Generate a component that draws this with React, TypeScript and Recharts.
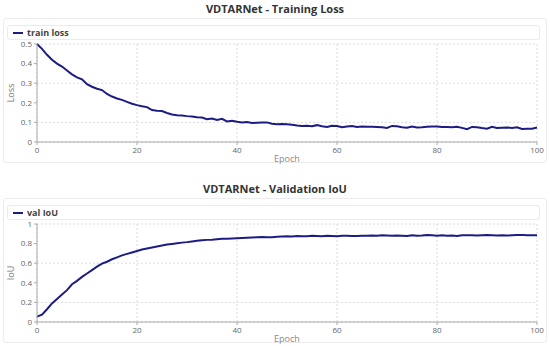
import { LineChart, Line, XAxis, YAxis, CartesianGrid, Legend } from 'recharts';

const EPOCHS = Array.from({ length: 101 }, (_, i) => i);

const TRAIN_LOSS = [
  0.5, 0.475, 0.445, 0.42, 0.4, 0.385, 0.365, 0.345, 0.33, 0.32,
  0.295, 0.282, 0.272, 0.265, 0.245, 0.232, 0.222, 0.215, 0.205, 0.195,
  0.188, 0.182, 0.178, 0.163, 0.16, 0.158, 0.148, 0.14, 0.137, 0.135,
  0.132, 0.13, 0.126, 0.125, 0.116, 0.12, 0.112, 0.118, 0.105, 0.108,
  0.103, 0.1, 0.102, 0.097, 0.098, 0.099, 0.1, 0.093, 0.09, 0.092,
  0.09, 0.088, 0.084, 0.082, 0.083, 0.081, 0.086, 0.08, 0.077, 0.083,
  0.082, 0.075, 0.079, 0.082, 0.077, 0.079, 0.078, 0.078, 0.077, 0.075,
  0.072, 0.082, 0.08, 0.075, 0.073, 0.079, 0.074, 0.075, 0.078, 0.079,
  0.079, 0.076, 0.077, 0.075, 0.078, 0.072, 0.065, 0.077, 0.075, 0.071,
  0.068, 0.078, 0.072, 0.073, 0.074, 0.072, 0.075, 0.066, 0.067, 0.068,
  0.074,
];

const VAL_IOU = [
  0.055, 0.075, 0.13, 0.19, 0.235, 0.28, 0.325, 0.385, 0.42, 0.46,
  0.495, 0.53, 0.565, 0.595, 0.615, 0.64, 0.66, 0.68, 0.695, 0.71,
  0.725, 0.74, 0.75, 0.76, 0.77, 0.78, 0.79, 0.797, 0.803, 0.81,
  0.815, 0.822, 0.83, 0.835, 0.838, 0.84, 0.845, 0.85, 0.85, 0.852,
  0.855, 0.857, 0.86, 0.862, 0.865, 0.868, 0.865, 0.866, 0.87, 0.872,
  0.875, 0.872, 0.878, 0.876, 0.874, 0.879, 0.877, 0.875, 0.88, 0.878,
  0.876, 0.879, 0.881, 0.878, 0.877, 0.88, 0.879, 0.882, 0.88, 0.884,
  0.882, 0.879, 0.883, 0.881, 0.878, 0.885, 0.88, 0.882, 0.887, 0.884,
  0.881, 0.886, 0.88, 0.883, 0.878, 0.885, 0.884, 0.886, 0.882, 0.885,
  0.888, 0.886, 0.883, 0.885, 0.882, 0.884, 0.887, 0.889, 0.885, 0.884,
  0.886,
];

const EPOCH_TICKS = [0, 20, 40, 60, 80, 100];
const LOSS_TICKS = [0, 0.1, 0.2, 0.3, 0.4, 0.5];
const IOU_TICKS = [0, 0.2, 0.4, 0.6, 0.8, 1];

const NAVY = '#1c1c84';
const FONT = '"Open Sans", "Noto Sans", sans-serif';

const lossData = EPOCHS.map((e, i) => ({ epoch: e, loss: TRAIN_LOSS[i] }));
const iouData = EPOCHS.map((e, i) => ({ epoch: e, iou: VAL_IOU[i] }));

function LegendBox({ payload }: any) {
  return (
    <div
      style={{
        height: 13,
        border: '1px solid #ebebeb',
        borderRadius: 3,
        display: 'flex',
        alignItems: 'center',
        paddingLeft: 5,
        fontFamily: FONT,
        fontSize: 9,
        fontWeight: 700,
        color: '#444',
      }}
    >
      {(payload || []).map((p: any) => (
        <span key={p.value} style={{ display: 'flex', alignItems: 'center' }}>
          <span style={{ width: 10, height: 2, background: NAVY, marginRight: 4 }} />
          {p.value}
        </span>
      ))}
    </div>
  );
}

function Panel({ top, title, data, dataKey, name, yLabel, yDomain, yTicks }: any) {
  return (
    <>
      <div
        style={{
          position: 'absolute', left: 0, top: top - 17, width: 550, textAlign: 'center',
          fontFamily: FONT, fontSize: 11, fontWeight: 700, color: '#333',
        }}
      >
        {title}
      </div>
      <div
        style={{
          position: 'absolute', left: 3, top, width: 542, height: 143,
          border: '1px solid #ececec', borderRadius: 3,
        }}
      />
      <div style={{ position: 'absolute', left: 0, top }}>
        {/* plot area ends at y=124 inside the panel; the x axis band holds ticks and label */}
        <LineChart width={550} height={148} data={data} margin={{ top: 7, right: 13, bottom: 0, left: 7 }}>
          <CartesianGrid stroke="#dcdcdc" strokeDasharray="2 2" />
          <Legend
            verticalAlign="top"
            align="left"
            content={LegendBox}
            wrapperStyle={{ left: 7, top: 7, width: 533, paddingBottom: 4 }}
          />
          <XAxis
            dataKey="epoch"
            type="number"
            domain={[0, 100]}
            ticks={EPOCH_TICKS}
            height={24}
            tickSize={3}
            stroke="#aaa"
            tick={{ fontSize: 8, fill: '#666', fontFamily: FONT }}
            label={{ value: 'Epoch', position: 'insideBottom', offset: 4, fontSize: 9, fill: '#888', fontFamily: FONT }}
          />
          <YAxis
            type="number"
            domain={yDomain}
            ticks={yTicks}
            width={30}
            tickSize={3}
            stroke="#aaa"
            tick={{ fontSize: 8, fill: '#666', fontFamily: FONT }}
            label={{
              value: yLabel, angle: -90, position: 'insideLeft', offset: 4,
              fontSize: 9, fill: '#777', fontFamily: FONT, style: { textAnchor: 'middle' },
            }}
          />
          <Line
            type="linear"
            dataKey={dataKey}
            name={name}
            stroke={NAVY}
            strokeWidth={2}
            dot={false}
            isAnimationActive={false}
          />
        </LineChart>
      </div>
    </>
  );
}

export default function App() {
  return (
    <div style={{ position: 'absolute', left: 0, top: 0, width: 550, height: 346, background: '#fff', overflow: 'hidden' }}>
      <Panel top={18} title="VDTARNet - Training Loss" data={lossData} dataKey="loss" name="train loss"
        yLabel="Loss" yDomain={[0, 0.5]} yTicks={LOSS_TICKS} />
      <Panel top={198} title="VDTARNet - Validation IoU" data={iouData} dataKey="iou" name="val IoU"
        yLabel="IoU" yDomain={[0, 1]} yTicks={IOU_TICKS} />
    </div>
  );
}
